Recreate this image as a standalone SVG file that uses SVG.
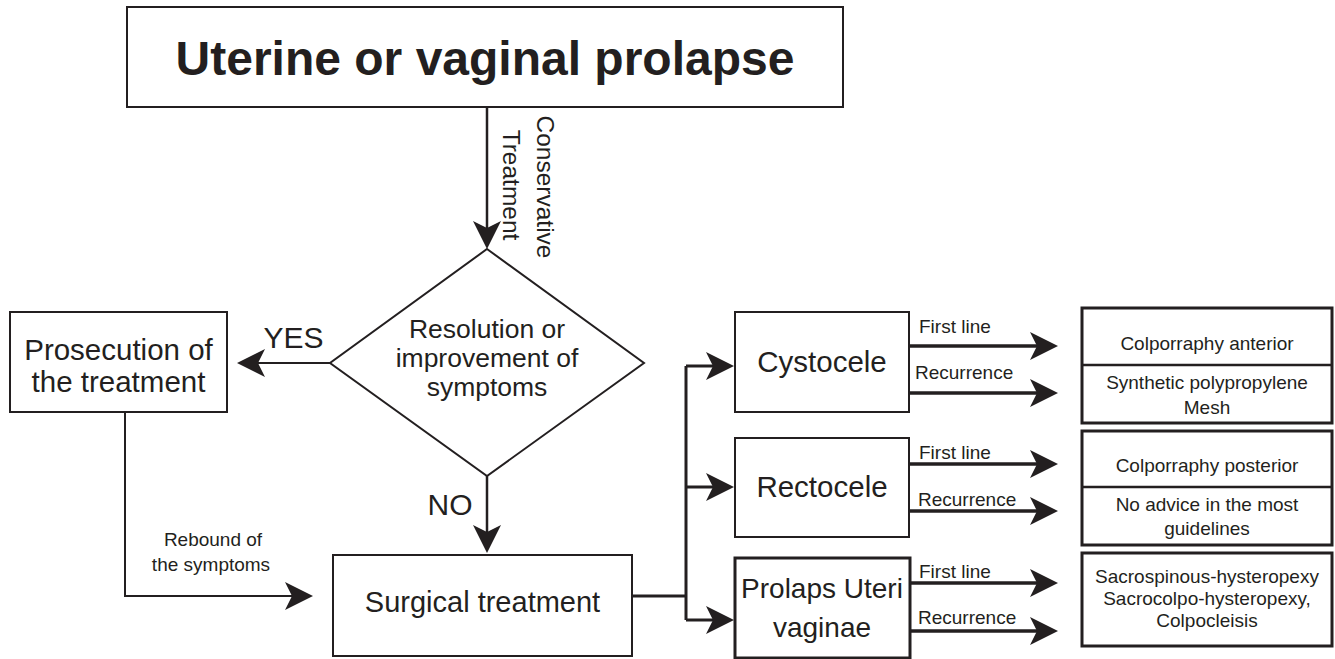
<svg xmlns="http://www.w3.org/2000/svg" width="1335" height="659" viewBox="0 0 1335 659">
<style>
  text { font-family: "Liberation Sans", Arial, sans-serif; fill: #231f20; }
  .box { fill: #ffffff; stroke: #231f20; stroke-width: 2; }
  .boxb { fill: #ffffff; stroke: #231f20; stroke-width: 3; }
  .c { text-anchor: middle; }
  .lbl { font-size: 29.5px; }
  .sm { font-size: 19px; }
  .ln { fill: none; stroke: #231f20; }
</style>
<defs>
  <marker id="ah" markerUnits="userSpaceOnUse" markerWidth="28" markerHeight="28" viewBox="0 0 28 28" refX="22" refY="14" orient="auto">
    <path d="M0,0 L28,14 L0,28 L7,14 Z" fill="#231f20"/>
  </marker>
</defs>

<g id="connectors">
  <path class="ln" stroke-width="2.5" d="M487,107 V243" marker-end="url(#ah)"/>
  <path class="ln" stroke-width="2" d="M330,363 H243" marker-end="url(#ah)"/>
  <path class="ln" stroke-width="2.5" d="M487,476 V547" marker-end="url(#ah)"/>
  <path class="ln" stroke-width="2" d="M125,412 V596 H307" marker-end="url(#ah)"/>
  <path class="ln" stroke-width="3" d="M632,596 H686"/>
  <path class="ln" stroke-width="3" d="M686,366 V620"/>
  <path class="ln" stroke-width="3" d="M686,366 H728" marker-end="url(#ah)"/>
  <path class="ln" stroke-width="3" d="M686,487 H728" marker-end="url(#ah)"/>
  <path class="ln" stroke-width="3" d="M686,620 H728" marker-end="url(#ah)"/>
  <path class="ln" stroke-width="3.5" d="M909,346 H1052" marker-end="url(#ah)"/>
  <path class="ln" stroke-width="3.5" d="M909,393 H1052" marker-end="url(#ah)"/>
  <path class="ln" stroke-width="3.5" d="M909,464 H1052" marker-end="url(#ah)"/>
  <path class="ln" stroke-width="3.5" d="M909,511 H1052" marker-end="url(#ah)"/>
  <path class="ln" stroke-width="3.5" d="M910,583 H1052" marker-end="url(#ah)"/>
  <path class="ln" stroke-width="3.5" d="M910,631 H1052" marker-end="url(#ah)"/>
  <text transform="translate(537,187) rotate(90)" class="c" font-size="24.5">Conservative</text>
  <text transform="translate(503,185) rotate(90)" class="c" font-size="24.5">Treatment</text>
  <text x="293.5" y="348" class="c" font-size="30">YES</text>
  <text x="450" y="515" class="c" font-size="30">NO</text>
  <text x="213" y="546" class="c sm">Rebound of</text>
  <text x="211" y="571" class="c sm">the symptoms</text>
  <text x="919" y="333" class="sm">First line</text>
  <text x="915" y="379" class="sm">Recurrence</text>
  <text x="919" y="459" class="sm">First line</text>
  <text x="918" y="506" class="sm">Recurrence</text>
  <text x="919" y="578" class="sm">First line</text>
  <text x="918" y="624" class="sm">Recurrence</text>
</g>

<g id="node-prolapse">
  <rect class="box" x="127" y="7" width="716" height="100"/>
  <text x="485" y="75" class="c" font-size="48" font-weight="bold">Uterine or vaginal prolapse</text>
</g>

<g id="node-decision">
  <polygon class="box" points="487,249 644,363 487,476 330,363"/>
  <text x="487" y="338" class="c" font-size="26.5">Resolution or</text>
  <text x="487" y="367" class="c" font-size="26.5">improvement of</text>
  <text x="487" y="396" class="c" font-size="26.5">symptoms</text>
</g>

<g id="node-prosecution">
  <rect class="box" x="10" y="312" width="217" height="100"/>
  <text x="118.5" y="360" class="c lbl">Prosecution of</text>
  <text x="118.5" y="392" class="c lbl">the treatment</text>
</g>

<g id="node-surgical">
  <rect class="box" x="333" y="555" width="299" height="101"/>
  <text x="482.5" y="612" class="c" font-size="29">Surgical treatment</text>
</g>

<g id="node-cystocele">
  <rect class="box" x="735" y="312" width="174" height="100"/>
  <text x="822" y="372" class="c lbl">Cystocele</text>
</g>

<g id="node-rectocele">
  <rect class="box" x="735" y="438" width="174" height="99"/>
  <text x="822" y="497" class="c lbl">Rectocele</text>
</g>

<g id="node-prolaps-uteri">
  <rect class="boxb" x="735" y="558" width="175" height="100"/>
  <text x="822" y="598" class="c" font-size="28">Prolaps Uteri</text>
  <text x="822" y="637" class="c" font-size="28">vaginae</text>
</g>

<g id="node-cystocele-treatments">
  <rect class="boxb" x="1082" y="308" width="250" height="115"/>
  <line x1="1082" y1="365" x2="1332" y2="365" stroke="#231f20" stroke-width="2.5"/>
  <text x="1207" y="350" class="c sm">Colporraphy anterior</text>
  <text x="1207" y="389" class="c sm">Synthetic polypropylene</text>
  <text x="1207" y="414" class="c sm">Mesh</text>
</g>

<g id="node-rectocele-treatments">
  <rect class="boxb" x="1082" y="431" width="250" height="114"/>
  <line x1="1082" y1="487" x2="1332" y2="487" stroke="#231f20" stroke-width="2.5"/>
  <text x="1207" y="472" class="c sm">Colporraphy posterior</text>
  <text x="1207" y="511" class="c sm">No advice in the most</text>
  <text x="1207" y="535" class="c sm">guidelines</text>
</g>

<g id="node-prolaps-treatments">
  <rect class="boxb" x="1082" y="553" width="250" height="93"/>
  <text x="1207" y="583" class="c sm">Sacrospinous-hysteropexy</text>
  <text x="1207" y="605" class="c sm">Sacrocolpo-hysteropexy,</text>
  <text x="1207" y="627" class="c sm">Colpocleisis</text>
</g>
</svg>
